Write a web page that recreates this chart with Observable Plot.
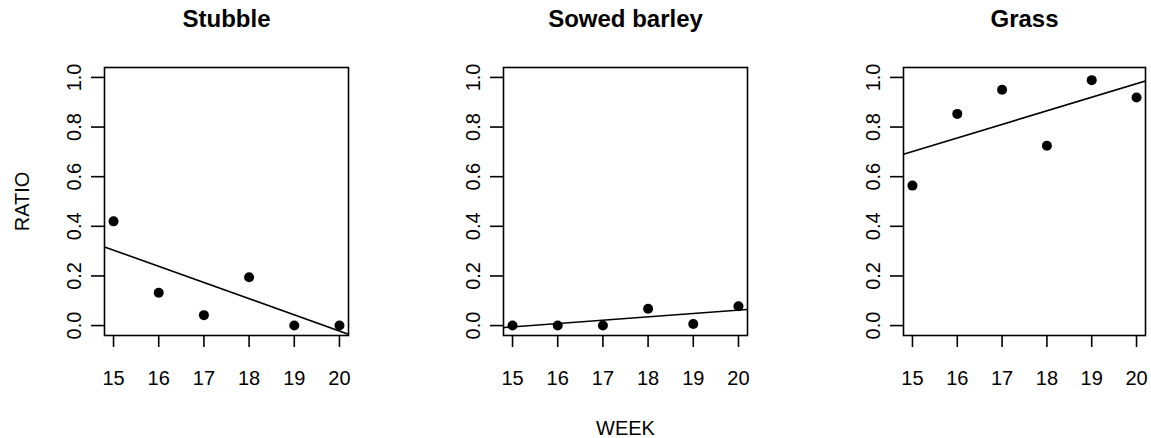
<!DOCTYPE html>
<html>
<head>
<meta charset="utf-8">
<script src="https://cdn.jsdelivr.net/npm/d3@7"></script>
<script src="https://cdn.jsdelivr.net/npm/@observablehq/plot@0.6"></script>
<style>
  html, body { margin: 0; padding: 0; background: #fff; }
  #chart { position: relative; width: 1151px; height: 438px; overflow: hidden; background: #fff; }
  #chart svg { position: absolute; top: 0; }
</style>
</head>
<body>
<div id="chart"></div>
<script>
// ---- data ----
const panels = ["Stubble", "Sowed barley", "Grass"];
const weeks = [15, 16, 17, 18, 19, 20];
const stubble = [0.42, 0.132, 0.042, 0.195, 0.0, 0.0];
const sowedBarley = [0.0, 0.0, 0.0, 0.068, 0.006, 0.078];
const grass = [0.564, 0.853, 0.95, 0.725, 0.989, 0.919];
// fitted straight line, value at the left and right edges of the x domain
const fitLeft = [0.317, -0.008, 0.690];
const fitRight = [-0.035, 0.065, 0.986];
const xDomain = [14.8, 20.2];
const yDomain = [-0.04, 1.04];
const xTicks = [15, 16, 17, 18, 19, 20];
const yTicks = [0, 0.2, 0.4, 0.6, 0.8, 1.0];
const xLabel = "WEEK";
const yLabel = "RATIO";

// ---- layout ----
const series = [stubble, sowedBarley, grass];
const svgLeft = [0, 384, 767];
const svgWidth = [384, 383, 384];
const marginLefts = [104, 119, 136];
const marginRights = [36, 20, 6];
const font = "'Liberation Sans', Arial, Helvetica, sans-serif";

const container = document.getElementById("chart");

panels.forEach((name, i) => {
  const data = weeks.map((w, j) => ({week: w, ratio: series[i][j]}));
  const fit = [{week: xDomain[0], ratio: fitLeft[i]}, {week: xDomain[1], ratio: fitRight[i]}];
  const marks = [
    Plot.frame({stroke: "black", strokeWidth: 1.6}),
    Plot.axisX(xTicks, {tickSize: 12, tickPadding: 23, label: null, strokeWidth: 1.6, fontSize: 20}),
    Plot.axisY(yTicks, {tickSize: 13, tickPadding: 11, tickRotate: -90, tickFormat: d3.format(".1f"), label: null, strokeWidth: 1.6, fontSize: 20}),
    Plot.line(fit, {x: "week", y: "ratio", stroke: "black", strokeWidth: 1.6, clip: true}),
    Plot.dot(data, {x: "week", y: "ratio", r: 5, fill: "black", stroke: "none"}),
    Plot.text([name], {frameAnchor: "top", dy: -40.5, textAnchor: "middle", lineAnchor: "bottom", fontSize: 24, fontWeight: "bold"})
  ];
  if (i === 0) {
    marks.push(Plot.text([yLabel], {frameAnchor: "left", dx: -76, rotate: -90, textAnchor: "middle", lineAnchor: "bottom", fontSize: 20}));
  }
  if (i === 1) {
    marks.push(Plot.text([xLabel], {frameAnchor: "bottom", dy: 99, textAnchor: "middle", lineAnchor: "bottom", fontSize: 20}));
  }
  const svg = Plot.plot({
    width: svgWidth[i],
    height: 438,
    marginTop: 67,
    marginBottom: 103,
    marginLeft: marginLefts[i],
    marginRight: marginRights[i],
    x: {domain: xDomain},
    y: {domain: yDomain},
    style: {fontFamily: font, fontSize: "20px", color: "black", background: "transparent", overflow: "visible"},
    marks
  });
  svg.style.left = svgLeft[i] + "px";
  container.appendChild(svg);
});
</script>
</body>
</html>
